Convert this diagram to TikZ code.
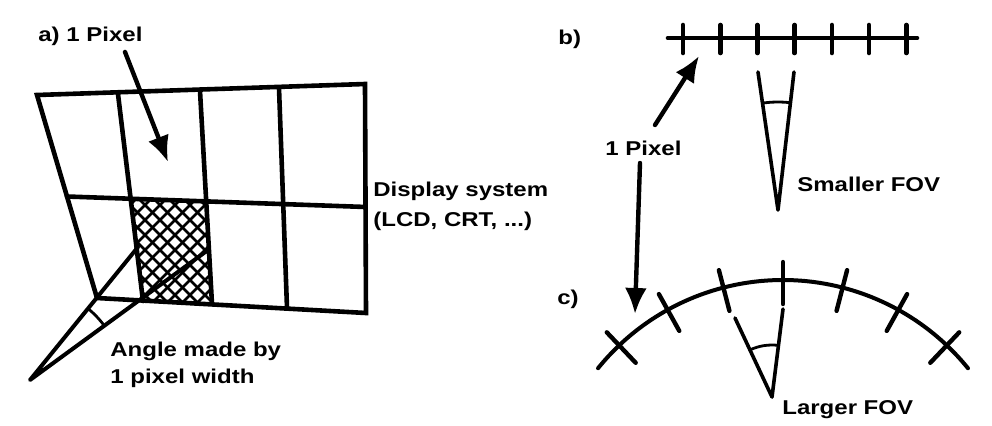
\documentclass[tikz,border=0pt]{standalone}
\usepackage{fontspec}
\setmainfont[FakeStretch=1.2]{Liberation Sans}
\usetikzlibrary{positioning,calc,arrows.meta}

\begin{document}
\begin{tikzpicture}[x=0.5pt, y=0.5pt, >={Latex[length=13pt,width=11pt]}, line cap=round, line join=round,
  font=\fontsize{10}{15}\selectfont\bfseries]
  \useasboundingbox (0,0) rectangle (992,-425);
  % a) display grid
  \coordinate (TL) at (37,-95);
  \coordinate (TR) at (365,-84);
  \coordinate (BR) at (366,-313);
  \coordinate (BL) at (97,-298);
  \coordinate (ML) at ($(TL)!0.5!(BL)$);
  \coordinate (MR) at ($(TR)!0.537!(BR)$);
  \coordinate (V1t) at (118,-94);
  \coordinate (V1b) at (143,-301);
  \coordinate (V2t) at (200,-91);
  \coordinate (V2b) at (212,-304);
  \coordinate (V3t) at (279,-88);
  \coordinate (V3b) at (287,-308);
  \coordinate (H1) at (intersection of V1t--V1b and ML--MR);
  \coordinate (H2) at (intersection of V2t--V2b and ML--MR);
  \begin{scope}
    \clip (H1) -- (H2) -- (V2b) -- (V1b) -- cycle;
    \foreach \k in {-3,...,18} {
      \draw[line width=1.3pt] (40+\k*15,-190) -- ++(130,-130);
      \draw[line width=1.3pt] (100+\k*15,-190) -- ++(-130,-130);
    }
  \end{scope}
  \draw[line width=2.3pt, line join=miter] (TL) -- (TR) -- (BR) -- (BL) -- cycle;
  \draw[line width=2.3pt] (ML) -- (MR);
  \draw[line width=2.3pt] (V1t) -- (V1b);
  \draw[line width=2.3pt] (V2t) -- (V2b);
  \draw[line width=2.3pt] (V3t) -- (V3b);
  % angle of one pixel
  \coordinate (E) at (30,-380);
  \coordinate (P1) at (138,-247);
  \coordinate (P2) at (208,-250);
  \draw[line width=2pt] (P1) -- (E) -- (P2);
  \draw[line width=1.4pt] ($(E)+(36:92)$) arc[start angle=36, end angle=51, radius=92];
  \node[anchor=base west, inner sep=0pt] (apix) at (38,-41) {a) 1 Pixel};
  \coordinate (aTail) at (125,-52);
  \coordinate (aTip) at (168,-162);
  \draw[->, line width=2.2pt] (aTail) -- (aTip);
  \node[anchor=north west, inner sep=0pt, align=left] (disp) at (373,-182) {Display system\\(LCD, CRT, ...)};
  \node[anchor=north west, inner sep=0pt, align=left, font=\fontsize{10}{13.5}\selectfont\bfseries] (angl) at (110,-342)
    {Angle made by\\1 pixel width};
  % b) flat row of pixels
  \node[anchor=base west, inner sep=0pt] (blab) at (558,-44) {b)};
  \draw[line width=2.3pt] (668,-38) -- (917,-38);
  \foreach \k in {0,...,6}
    \draw[line width=2.3pt] (683+\k*37.2,-25) -- (683+\k*37.2,-53);
  \coordinate (S) at (778,-210);
  \draw[line width=1.8pt] (758,-72) -- (S) -- (794,-72);
  \draw[line width=1.4pt] ($(S)+(83.4:108)$) arc[start angle=83.4, end angle=98.2, radius=108];
  \node[anchor=base west, inner sep=0pt] (small) at (797,-191) {Smaller FOV};
  \node[anchor=base west, inner sep=0pt] (bpix) at (605,-155) {1 Pixel};
  \coordinate (bTail) at (655,-125);
  \coordinate (bTip) at (699,-56);
  \coordinate (cTail) at (640,-163);
  \coordinate (cTip) at (635,-314);
  \draw[->, line width=2.2pt] (bTail) -- (bTip);
  \draw[->, line width=2.2pt] (cTail) -- (cTip);
  % c) curved row of pixels
  \node[anchor=base west, inner sep=0pt] (clab) at (557,-304) {c)};
  \coordinate (O) at (783,-518);
  \draw[line width=2pt] ($(O)+(141:238)$) arc[start angle=141, end angle=39, radius=238];
  \foreach \a in {-3,...,3}
    \draw[line width=2.2pt] ($(O)+({90+\a*14.5}:214)$) -- ($(O)+({90+\a*14.5}:256)$);
  \coordinate (L) at (772,-397);
  \draw[line width=1.8pt] (735,-318) -- (L) -- (783,-309);
  \draw[line width=1.4pt] ($(L)+(82.9:52)$) arc[start angle=82.9, end angle=115.1, radius=52];
  \node[anchor=base west, inner sep=0pt] (large) at (782,-414) {Larger FOV};
\end{tikzpicture}
\end{document}
